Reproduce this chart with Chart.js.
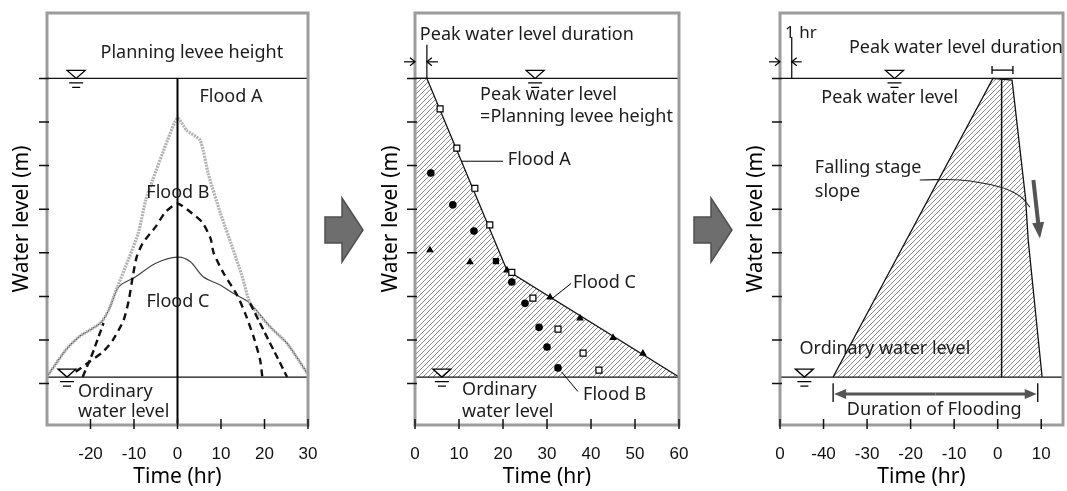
<!DOCTYPE html>
<html lang="en">
<head>
<meta charset="utf-8">
<title>Design flood hydrograph</title>
<script src="https://cdn.jsdelivr.net/npm/chart.js@4.4.1/dist/chart.umd.min.js"></script>
<style>
  html, body { margin: 0; padding: 0; background: #fff; }
  #stage { position: relative; width: 1067px; height: 491px; overflow: hidden; }
  #stage canvas { position: absolute; top: 0; }
  #steps { position: absolute; left: 0; top: 0; }
</style>
</head>
<body>
<div id="stage">
  <canvas id="observed" width="330" height="491" style="left:0px"></canvas>
  <canvas id="recession" width="345" height="491" style="left:360px"></canvas>
  <canvas id="design" width="342" height="491" style="left:725px"></canvas>
  <svg id="steps" width="1067" height="491">
    <polygon points="325,217 342,217 342,198 363,230 342,262 342,243 325,243" fill="#6e6e6e" stroke="#4f4f4f" stroke-width="1.5"/>
    <polygon points="694,217 711,217 711,198 732,230 711,262 711,243 694,243" fill="#6e6e6e" stroke="#4f4f4f" stroke-width="1.5"/>
  </svg>
</div>
<script>
// ---------- shared water-level axis ----------
const LEVEL_MIN = -0.95, LEVEL_MAX = 8.5;
const levelTicks = [0, 1, 2, 3, 4, 5, 6, 7];
const PEAK_LEVEL = 7;          // planning levee height = peak water level
const ORDINARY_LEVEL = 0.15;   // ordinary water level

// ---------- panel 1: observed floods, centred on the peak ----------
const obsTimeTicks  = [-20, -10, 0, 10, 20, 30];
const obsTimeLabels = ['-20', '-10', '0', '10', '20', '30'];

const floodA_t = [-30, -25.7, -22.7, -17.7, -15.8, -13.8, -11.3, -9.0, -7.3, -5.7, -2.3, 0, 2.1, 5.2, 7.1, 9.9, 12.6, 14.9, 16.7, 21.3, 25.2, 29.8];
const floodA_h = [0.16, 0.77, 1.07, 1.39, 1.69, 2.22, 2.84, 3.46, 4.21, 4.67, 5.58, 6.09, 5.81, 5.58, 4.8, 3.9, 3.13, 2.45, 1.84, 1.3, 0.92, 0.24];

const floodB_t = [-23.4, -20.4, -17.2, -14.9, -12.4, -11.2, -10.3, -9.4, -8.0, -5.0, -2.8, 0, 3.4, 5.7, 7.6, 8.3, 10.6, 13.7, 15.6, 17.5, 19.0, 19.5];
const floodB_h = [0.27, 0.49, 0.72, 0.99, 1.45, 1.91, 2.45, 2.9, 3.22, 3.6, 3.93, 4.13, 3.9, 3.7, 3.33, 3.0, 2.53, 2.03, 1.6, 1.07, 0.54, 0.15];

const floodC_t = [-30, -25.7, -22.7, -17.7, -15.8, -13.5, -9.6, -5.0, 0, 2.9, 5.9, 9.8, 12.8, 16.7, 21.3, 25.2, 29.8];
const floodC_h = [0.16, 0.77, 1.07, 1.39, 1.69, 2.22, 2.45, 2.76, 2.9, 2.8, 2.45, 2.26, 2.07, 1.84, 1.3, 0.92, 0.24];

const steepRise_t = [-21.8, -19.5, -17.0];
const steepRise_h = [0.15, 0.7, 1.39];
const steepFall_t = [16.7, 18.6, 20.9, 22.9, 25.2];
const steepFall_h = [1.84, 1.46, 1.0, 0.61, 0.15];

// ---------- panel 2: falling limbs from the peak ----------
const recTimeTicks  = [0, 10, 20, 30, 40, 50, 60];
const recTimeLabels = ['0', '10', '20', '30', '40', '50', '60'];

const envelope_t = [0, 2.7, 20.9, 60];
const envelope_h = [7, 7, 2.6, 0.15];

const recA_t = [5.7, 9.5, 13.6, 17.0, 22.0, 26.8, 32.5, 38.2, 41.8];
const recA_h = [6.3, 5.4, 4.48, 3.64, 2.55, 1.96, 1.25, 0.7, 0.31];
const recB_t = [3.6, 8.6, 13.4, 22.0, 25.0, 28.2, 30.0, 32.5];
const recB_h = [4.83, 4.1, 3.5, 2.33, 1.84, 1.29, 0.84, 0.36];
const recC_t = [3.4, 12.5, 20.9, 30.7, 37.5, 45.0, 51.8];
const recC_h = [3.06, 2.79, 2.6, 1.98, 1.5, 1.05, 0.69];
const recD_t = [18.4];
const recD_h = [2.81];

// ---------- panel 3: design hydrograph ----------
const desTimeTicks  = [-50, -40, -30, -20, -10, 0, 10];
const desTimeLabels = ['0', '-40', '-30', '-20', '-10', '0', '10'];

const design_t = [-37.8, -1.1, 3.3, 6.4, 7.0, 10.2];
const design_h = [0.15, 7, 6.96, 4.25, 3.3, 0.15];
const slopeArc_t = [-17.9, -8.7, 0.5, 5.1, 7.4];
const slopeArc_h = [4.67, 4.67, 4.51, 4.3, 4.05];

// ---------- helpers ----------
const pts = (ts, hs) => ts.map((t, i) => ({ x: t, y: hs[i] }));
const LABEL_FONT = '"Noto Sans", "Open Sans", sans-serif';
Chart.defaults.font.family = LABEL_FONT;
Chart.defaults.color = '#111';

function hatch(canvasId) {
  const s = 5, c = document.createElement('canvas');
  c.width = c.height = s;
  const g = c.getContext('2d');
  g.strokeStyle = '#8c8c8c';
  g.lineWidth = 1;
  g.beginPath();
  g.moveTo(-1, s + 1); g.lineTo(s + 1, -1);
  g.moveTo(-1, 1); g.lineTo(1, -1);
  g.moveTo(s - 1, s + 1); g.lineTo(s + 1, s - 1);
  g.stroke();
  return document.getElementById(canvasId).getContext('2d').createPattern(c, 'repeat');
}

function line(data, color, width, extra) {
  return Object.assign({ data, borderColor: color, borderWidth: width, pointRadius: 0, fill: false, tension: 0 }, extra || {});
}
function marks(data, style, radius, fillColor) {
  return { data, showLine: false, pointStyle: style, pointRadius: radius, pointBorderWidth: 1.2,
           pointBorderColor: '#000', pointBackgroundColor: fillColor, borderColor: '#000' };
}

function waterMark(ctx, x, y) {
  ctx.save();
  ctx.lineWidth = 1.3; ctx.strokeStyle = '#000'; ctx.fillStyle = '#fff';
  ctx.beginPath();
  ctx.moveTo(x - 9, y - 8); ctx.lineTo(x + 9, y - 8); ctx.lineTo(x, y); ctx.closePath();
  ctx.fill(); ctx.stroke();
  ctx.beginPath();
  ctx.moveTo(x - 7, y + 4.5); ctx.lineTo(x + 7, y + 4.5);
  ctx.moveTo(x - 4, y + 9); ctx.lineTo(x + 4, y + 9);
  ctx.stroke();
  ctx.restore();
}
function text(ctx, str, x, y, align, size) {
  ctx.save();
  ctx.font = (size || 18) + 'px ' + LABEL_FONT;
  ctx.fillStyle = '#1c1c1c';
  ctx.textAlign = align || 'left';
  ctx.textBaseline = 'middle';
  ctx.fillText(str, x, y);
  ctx.restore();
}
function seg(ctx, x1, y1, x2, y2, width, color) {
  ctx.save();
  ctx.strokeStyle = color || '#000'; ctx.lineWidth = width || 1;
  ctx.beginPath(); ctx.moveTo(x1, y1); ctx.lineTo(x2, y2); ctx.stroke();
  ctx.restore();
}
function openArrow(ctx, x1, y, x2) {
  const d = Math.sign(x2 - x1);
  seg(ctx, x1, y, x2, y, 1.2);
  ctx.save(); ctx.strokeStyle = '#000'; ctx.lineWidth = 1.2;
  ctx.beginPath();
  ctx.moveTo(x2 - d * 5, y - 4); ctx.lineTo(x2, y); ctx.lineTo(x2 - d * 5, y + 4);
  ctx.stroke(); ctx.restore();
}
function solidArrow(ctx, x1, y1, x2, y2, width, head, half, color) {
  const a = Math.atan2(y2 - y1, x2 - x1), c = Math.cos(a), s = Math.sin(a);
  seg(ctx, x1, y1, x2 - c * head * 0.8, y2 - s * head * 0.8, width, color);
  ctx.save(); ctx.fillStyle = color;
  ctx.beginPath();
  ctx.moveTo(x2, y2);
  ctx.lineTo(x2 - c * head - s * half, y2 - s * head + c * half);
  ctx.lineTo(x2 - c * head + s * half, y2 - s * head - c * half);
  ctx.closePath(); ctx.fill(); ctx.restore();
}

function framePlugin(id, xTicks, annotate) {
  return {
    id: 'frame_' + id,
    afterDatasetsDraw(chart) {
      const { ctx, chartArea: a, scales: { x, y } } = chart;
      ctx.save();
      ctx.strokeStyle = '#9c9c9c'; ctx.lineWidth = 3;
      ctx.strokeRect(a.left, a.top, a.right - a.left, a.bottom - a.top);
      ctx.strokeStyle = '#111'; ctx.lineWidth = 1.5;
      ctx.beginPath();
      levelTicks.forEach(v => {
        const p = y.getPixelForValue(v);
        ctx.moveTo(a.left - 8, p); ctx.lineTo(a.left + 2, p);
      });
      xTicks.forEach(v => {
        const p = x.getPixelForValue(v);
        ctx.moveTo(p, a.bottom - 6); ctx.lineTo(p, a.bottom + 4);
      });
      ctx.stroke();
      ctx.restore();
      const X = v => x.getPixelForValue(v), Y = v => y.getPixelForValue(v);
      annotate(ctx, X, Y);
    }
  };
}

function makeChart(id, o) {
  const ds = o.datasets.map((d, i) => Object.assign({ order: o.datasets.length - i }, d));
  return new Chart(document.getElementById(id), {
    type: 'line',
    data: { datasets: ds },
    options: {
      responsive: false, animation: false, events: [],
      layout: { padding: { top: 13, right: o.padRight, left: 0, bottom: 0 } },
      plugins: { legend: { display: false }, tooltip: { enabled: false } },
      scales: {
        x: {
          type: 'linear', min: o.xMin, max: o.xMax,
          grid: { display: false }, border: { display: false },
          afterBuildTicks: s => { s.ticks = o.xTicks.map(v => ({ value: v })); },
          afterFit: s => { s.height = 66; },
          ticks: {
            autoSkip: false, maxRotation: 0, padding: 11, color: '#111',
            font: { family: '"Liberation Sans", sans-serif', size: 17 },
            callback: v => o.xLabels[o.xTicks.indexOf(v)]
          },
          title: { display: true, text: 'Time (hr)', color: '#000',
                   font: { size: 21, lineHeight: 1 }, padding: { top: 0, bottom: 3.5 } }
        },
        y: {
          type: 'linear', min: LEVEL_MIN, max: LEVEL_MAX,
          grid: { display: false }, border: { display: false },
          ticks: { display: false },
          afterFit: s => { s.width = o.yWidth; },
          title: { display: true, text: 'Water level (m)', color: '#000',
                   font: { size: 21, lineHeight: 1 }, padding: { top: o.yTitlePad, bottom: 0 } }
        }
      }
    },
    plugins: [framePlugin(id, o.xTicks, o.annotate)]
  });
}

// ---------- panel 1 ----------
makeChart('observed', {
  xMin: -30, xMax: 30, xTicks: obsTimeTicks, xLabels: obsTimeLabels,
  yWidth: 47, padRight: 22, yTitlePad: 11.5,
  datasets: [
    line(pts([-30, 30], [PEAK_LEVEL, PEAK_LEVEL]), '#111', 1.3),
    line(pts([-30, 30], [ORDINARY_LEVEL, ORDINARY_LEVEL]), '#111', 1.3),
    line(pts(floodC_t, floodC_h), '#444', 1.2, { tension: 0.3 }),
    line(pts(floodA_t, floodA_h), '#b2b2b2', 3.2, { borderDash: [2, 1], tension: 0.2 }),
    line(pts(steepRise_t, steepRise_h), '#111', 2.4, { borderDash: [7, 4] }),
    line(pts(steepFall_t, steepFall_h), '#111', 2.4, { borderDash: [7, 4] }),
    line(pts(floodB_t, floodB_h), '#111', 2.4, { borderDash: [7, 5], tension: 0.2 }),
    line(pts([0, 0], [PEAK_LEVEL, LEVEL_MIN]), '#000', 2)
  ],
  annotate(ctx, X, Y) {
    waterMark(ctx, X(-23.3), Y(PEAK_LEVEL));
    waterMark(ctx, X(-25.4), Y(ORDINARY_LEVEL));
    text(ctx, 'Planning levee height', X(3.3), Y(7.58), 'center');
    text(ctx, 'Flood A', X(12.3), Y(6.57), 'center');
    text(ctx, 'Flood B', X(0.1), Y(4.37), 'center');
    text(ctx, 'Flood C', X(0.1), Y(1.87), 'center');
    text(ctx, 'Ordinary', X(-22.9), Y(-0.19), 'left');
    text(ctx, 'water level', X(-22.9), Y(-0.65), 'left');
  }
});

// ---------- panel 2 ----------
makeChart('recession', {
  xMin: 0, xMax: 60, xTicks: recTimeTicks, xLabels: recTimeLabels,
  yWidth: 55, padRight: 26, yTitlePad: 20.5,
  datasets: [
    line(pts(envelope_t, envelope_h), '#111', 1.2,
         { fill: { value: ORDINARY_LEVEL }, backgroundColor: hatch('recession') }),
    line(pts([0, 60], [PEAK_LEVEL, PEAK_LEVEL]), '#111', 1.3),
    line(pts([0, 60], [ORDINARY_LEVEL, ORDINARY_LEVEL]), '#111', 1.3),
    marks(pts(recC_t, recC_h), 'triangle', 3.2, '#000'),
    marks(pts(recB_t, recB_h), 'circle', 3.2, '#000'),
    marks(pts(recD_t, recD_h), 'rect', 3.6, '#000'),
    marks(pts(recA_t, recA_h), 'rect', 4.2, '#fff')
  ],
  annotate(ctx, X, Y) {
    waterMark(ctx, X(27.3), Y(PEAK_LEVEL));
    waterMark(ctx, X(6.1), Y(ORDINARY_LEVEL));
    seg(ctx, X(2.7), Y(PEAK_LEVEL), X(2.7), Y(7.77), 1.2);
    openArrow(ctx, X(0) - 11, Y(7.38), X(0));
    openArrow(ctx, X(2.7) + 11, Y(7.38), X(2.7));
    text(ctx, 'Peak water level duration', X(1.1), Y(8.0), 'left');
    text(ctx, 'Peak water level', X(14.8), Y(6.62), 'left');
    text(ctx, '=Planning levee height', X(14.8), Y(6.11), 'left');
    seg(ctx, X(10.56), Y(5.1), X(20), Y(5.1), 1);
    text(ctx, 'Flood A', X(21.1), Y(5.13), 'left');
    seg(ctx, X(31.3), Y(1.96), X(35.5), Y(2.3), 1);
    text(ctx, 'Flood C', X(35.9), Y(2.3), 'left');
    seg(ctx, X(33.3), Y(0.27), X(37), Y(-0.18), 1);
    text(ctx, 'Flood B', X(38.2), Y(-0.26), 'left');
    text(ctx, 'Ordinary', X(10.7), Y(-0.15), 'left');
    text(ctx, 'water level', X(10.7), Y(-0.65), 'left');
  }
});

// ---------- panel 3 ----------
makeChart('design', {
  xMin: -50, xMax: 15, xTicks: desTimeTicks, xLabels: desTimeLabels,
  yWidth: 55, padRight: 4, yTitlePad: 20.5,
  datasets: [
    line(pts(design_t, design_h), '#111', 1.3,
         { fill: { value: ORDINARY_LEVEL }, backgroundColor: hatch('design') }),
    line(pts([-50, 15], [PEAK_LEVEL, PEAK_LEVEL]), '#111', 1.3),
    line(pts([-50, 15], [ORDINARY_LEVEL, ORDINARY_LEVEL]), '#111', 1.3),
    line(pts([0.9, 0.9], [PEAK_LEVEL, ORDINARY_LEVEL]), '#111', 1.5),
    line(pts(slopeArc_t, slopeArc_h), '#222', 1.1, { tension: 0.4 })
  ],
  annotate(ctx, X, Y) {
    waterMark(ctx, X(-23.7), Y(PEAK_LEVEL));
    waterMark(ctx, X(-44.4), Y(ORDINARY_LEVEL));
    seg(ctx, X(-47.3), Y(PEAK_LEVEL), X(-47.3), Y(7.95), 1.2);
    openArrow(ctx, X(-50) - 11, Y(7.38), X(-50));
    openArrow(ctx, X(-47.3) + 10, Y(7.38), X(-47.3));
    text(ctx, '1 hr', X(-48.85), Y(8.04), 'left', 17);
    text(ctx, 'Peak water level duration', X(-9.6), Y(7.7), 'center');
    seg(ctx, X(-1.3), Y(7.19), X(3.5), Y(7.19), 1.3);
    seg(ctx, X(-1.3), Y(7.19) - 4, X(-1.3), Y(7.19) + 4, 1.3);
    seg(ctx, X(3.5), Y(7.19) - 4, X(3.5), Y(7.19) + 4, 1.3);
    text(ctx, 'Peak water level', X(-24.8), Y(6.55), 'center');
    text(ctx, 'Falling stage', X(-42), Y(4.94), 'left');
    text(ctx, 'slope', X(-42), Y(4.39), 'left');
    solidArrow(ctx, X(8.2), Y(4.67), X(9.7), Y(3.33), 4, 16, 6, '#555');
    text(ctx, 'Ordinary water level', X(-25.9), Y(0.79), 'center');
    seg(ctx, X(-37.8), Y(0.01), X(-37.8), Y(-0.42), 1.3);
    seg(ctx, X(9.2), Y(0.01), X(9.2), Y(-0.42), 1.3);
    const mid = (X(-37.8) + X(9.2)) / 2;
    solidArrow(ctx, mid, Y(-0.24), X(-37.8) + 1, Y(-0.24), 3, 12, 5, '#555');
    solidArrow(ctx, mid, Y(-0.24), X(9.2) - 1, Y(-0.24), 3, 12, 5, '#555');
    text(ctx, 'Duration of Flooding', X(-14.6), Y(-0.61), 'center');
  }
});
</script>
</body>
</html>
